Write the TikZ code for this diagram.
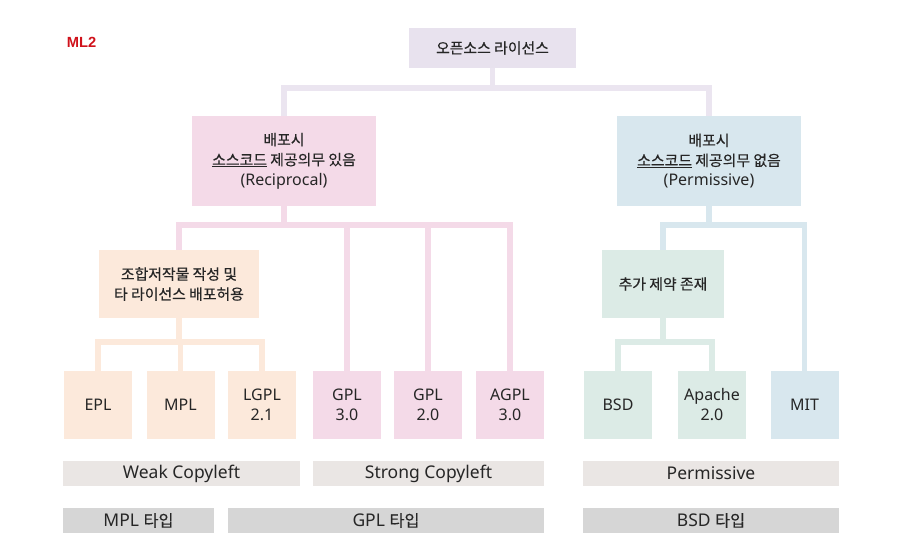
\documentclass[tikz,border=0pt]{standalone}
\usepackage{fontspec}
\setmainfont{Noto Sans}
\newfontfamily\kr{Noto Sans CJK KR}[Scale=0.93, UprightFeatures={FakeBold=0.4}]
\newfontfamily\tagfont{Liberation Sans}
\usetikzlibrary{positioning, calc}

\definecolor{ink}{HTML}{262626}
\definecolor{mlred}{HTML}{D0121B}
\definecolor{lavender}{HTML}{E8E2EE}
\definecolor{lavline}{HTML}{EBE5F0}
\definecolor{pinkfill}{HTML}{F4DAE8}
\definecolor{bluefill}{HTML}{D8E7EE}
\definecolor{peachfill}{HTML}{FCE9DB}
\definecolor{mintfill}{HTML}{DCEBE6}
\definecolor{barlight}{HTML}{EAE6E4}
\definecolor{bardark}{HTML}{D6D6D6}

\tikzset{
  box/.style={inner sep=0pt, align=center, text=ink, font=\fontsize{16}{20}\selectfont},
  rootbox/.style={box, fill=lavender, minimum width=167pt, minimum height=40pt},
  midbox/.style={box, minimum width=184pt, minimum height=90pt},
  subbox/.style={box, minimum height=68pt},
  leafbox/.style={box, minimum width=68pt, minimum height=68pt},
  bartop/.style={box, fill=barlight, minimum height=25pt, font=\fontsize{17.5}{20}\selectfont},
  barbot/.style={box, fill=bardark, minimum height=25pt, font=\fontsize{17.5}{20}\selectfont},
  link/.style={line width=5.5pt}
}

\begin{document}
\begin{tikzpicture}[x=1pt,y=-1pt]
  \useasboundingbox (0,0) rectangle (920,554);

  \node[text=mlred, font=\tagfont\bfseries\fontsize{14.7}{16}\selectfont] (tag) at (81.5,42) {ML2};

  \node[rootbox] (root) at (492.5,48) {{\kr 오픈소스 라이선스}};

  \node[midbox, fill=pinkfill] (recip) at (284,161)
    {{\kr 배포시}\\{\kr\underline{소스코드} 제공의무 있음}\\(Reciprocal)};
  \node[midbox, fill=bluefill] (perm) at (709,161)
    {{\kr 배포시}\\{\kr\underline{소스코드} 제공의무 없음}\\(Permissive)};

  \node[subbox, fill=peachfill, minimum width=160pt] (combo) at (179,284)
    {{\kr 조합저작물 작성 및}\\{\kr 타 라이선스 배포허용}};
  \node[subbox, fill=mintfill, minimum width=122pt] (extra) at (663,284)
    {{\kr 추가 제약 존재}};

  \node[leafbox, fill=peachfill] (epl) at (98,405) {EPL};
  \node[leafbox, fill=peachfill] (mpl) at (180.5,405) {MPL};
  \node[leafbox, fill=peachfill] (lgpl) at (262,405) {LGPL\\2.1};
  \node[leafbox, fill=pinkfill] (gplthree) at (347,405) {GPL\\3.0};
  \node[leafbox, fill=pinkfill] (gpltwo) at (428,405) {GPL\\2.0};
  \node[leafbox, fill=pinkfill] (agpl) at (510,405) {AGPL\\3.0};
  \node[leafbox, fill=mintfill] (bsd) at (618,405) {BSD};
  \node[leafbox, fill=mintfill] (apache) at (712,405) {Apache\\2.0};
  \node[leafbox, fill=bluefill] (mit) at (804.5,405) {MIT};

  \node[bartop, minimum width=237pt] (weak) at (181.5,473.5) {Weak Copyleft};
  \node[bartop, minimum width=231pt] (strong) at (428.5,473.5) {Strong Copyleft};
  \node[bartop, minimum width=256pt] (permbar) at (711,473.5) {Permissive};

  \node[barbot, minimum width=151pt] (mpltype) at (138.5,520.5) {MPL {\kr 타입}};
  \node[barbot, minimum width=316pt] (gpltype) at (386,520.5) {GPL {\kr 타입}};
  \node[barbot, minimum width=256pt] (bsdtype) at (711,520.5) {BSD {\kr 타입}};

  \draw[link, lavline] (root.south) -- ++(0,20) coordinate (busroot);
  \draw[link, lavline] (recip.north) |- (busroot) -| (perm.north);

  \draw[link, pinkfill] (recip.south) -- ++(0,19) coordinate (busrecip);
  \draw[link, pinkfill] (combo.north) |- (busrecip) -| (agpl.north);
  \draw[link, pinkfill] (gplthree.north) -- (gplthree.north |- busrecip);
  \draw[link, pinkfill] (gpltwo.north) -- (gpltwo.north |- busrecip);

  \draw[link, peachfill] (combo.south) -- ++(0,24) coordinate (buscombo);
  \draw[link, peachfill] (epl.north) |- (buscombo) -| (lgpl.north);
  \draw[link, peachfill] (mpl.north) -- (mpl.north |- buscombo);

  \draw[link, bluefill] (perm.south) -- ++(0,19) coordinate (busperm);
  \draw[link, bluefill] (extra.north) |- (busperm) -| (mit.north);

  \draw[link, mintfill] (extra.south) -- ++(0,24) coordinate (busextra);
  \draw[link, mintfill] (bsd.north) |- (busextra) -| (apache.north);
\end{tikzpicture}
\end{document}
